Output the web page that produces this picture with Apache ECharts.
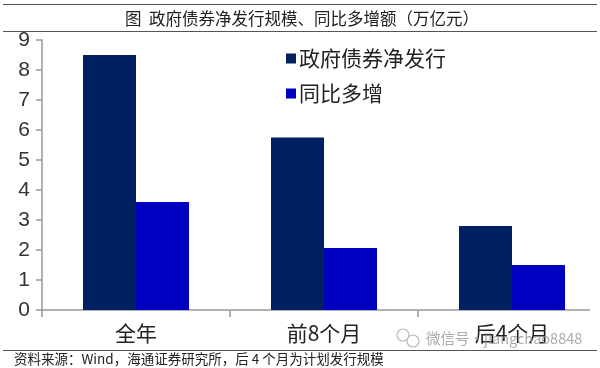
<!DOCTYPE html>
<html><head><meta charset="utf-8">
<style>html,body{margin:0;padding:0;background:#fff}#c{width:600px;height:368px}</style>
<script src="https://cdn.jsdelivr.net/npm/echarts@6/dist/echarts.min.js"></script>
</head><body><div id="c"></div>
<script>
const categories = ['全年', '前8个月', '后4个月'];
const netIssuance = [8.5, 5.75, 2.8];
const yoyIncrease = [3.6, 2.07, 1.5];
const seriesNames = ['政府债券净发行', '同比多增'];
const titleText = '图  政府债券净发行规模、同比多增额（万亿元）';
const sourceText = '资料来源：Wind，海通证券研究所，后 4 个月为计划发行规模';
const watermarkText = '微信号·jiangchao8848';
const cjk = '"Noto Sans CJK SC","Liberation Sans",sans-serif';
const latin = '"Liberation Sans","Noto Sans CJK SC",sans-serif';
const rule = y => ({type:'line',shape:{x1:3,y1:y,x2:597,y2:y},style:{stroke:'#555',lineWidth:1.2},silent:true});
const chart = echarts.init(document.getElementById('c'));
chart.setOption({
  animation:false,
  backgroundColor:'#fff',
  title:{text:titleText,left:125,top:10,padding:0,textStyle:{fontFamily:cjk,fontSize:16.5,fontWeight:'normal',color:'#222'}},
  legend:{left:281,top:43,orient:'vertical',itemWidth:10,itemHeight:10,itemGap:14,icon:'rect',
    textStyle:{fontFamily:cjk,fontSize:21,color:'#222',padding:[0,0,0,-2]},data:seriesNames},
  grid:{left:42,width:564,top:40,height:270,outerBoundsMode:'none'},
  xAxis:{type:'category',data:categories,
    axisLine:{lineStyle:{color:'#999',width:1.5}},
    axisTick:{show:true,length:7,lineStyle:{color:'#999',width:1.5}},
    axisLabel:{fontFamily:cjk,fontSize:21,color:'#222',margin:13}},
  yAxis:{type:'value',min:0,max:9,interval:1,
    splitLine:{show:false},
    axisLine:{show:true,lineStyle:{color:'#999',width:1.5}},
    axisTick:{show:true,length:6,lineStyle:{color:'#999',width:1.5}},
    axisLabel:{fontFamily:latin,fontSize:21,color:'#333',margin:12}},
  series:[
    {name:seriesNames[0],type:'bar',data:netIssuance,barWidth:53,barGap:0,itemStyle:{color:'#002060'}},
    {name:seriesNames[1],type:'bar',data:yoyIncrease,barWidth:53,itemStyle:{color:'#0000C0'}}
  ],
  graphic:[
    {type:'rect',shape:{x:590,y:305,width:10,height:16},style:{fill:'#fff'},z:10,silent:true},
    rule(4.5),rule(31.5),rule(350.5),
    {type:'text',left:14,top:352,style:{text:sourceText,fontFamily:cjk,fontSize:13.5,fill:'#222'}},
    {type:'circle',shape:{cx:403,cy:335,r:6},style:{fill:'none',stroke:'#bbb',lineWidth:1.2},z:20},
    {type:'circle',shape:{cx:413,cy:341,r:6},style:{fill:'rgba(255,255,255,0.6)',stroke:'#bbb',lineWidth:1.2},z:20},
    {type:'text',left:426,top:331,z:20,style:{text:watermarkText,fontFamily:cjk,fontSize:14.5,fill:'rgba(150,150,150,0.8)'}}
  ]
});
</script></body></html>
